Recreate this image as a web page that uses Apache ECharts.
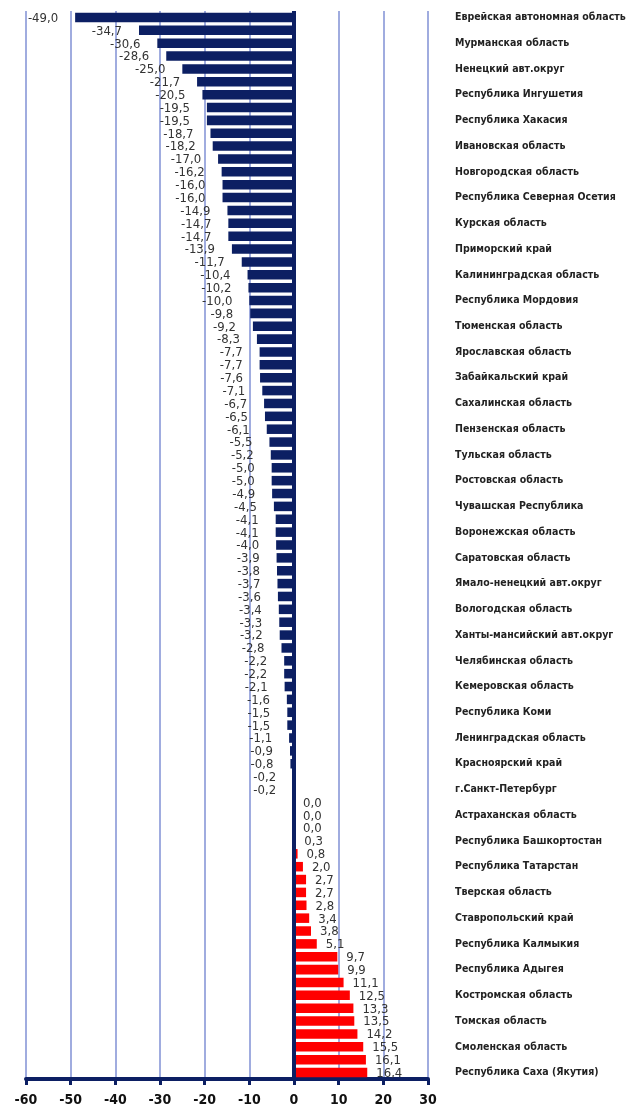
<!DOCTYPE html>
<html>
<head>
<meta charset="utf-8">
<script src="https://cdn.jsdelivr.net/npm/echarts@6/dist/echarts.min.js"></script>
<style>
  html, body { margin: 0; padding: 0; background: #ffffff; }
  #chart { width: 629px; height: 1109px; }
</style>
</head>
<body>
<div id="chart"></div>
<script>
// Change by region, sorted from the largest drop to the largest rise
const values = [
  -49.0, -34.7, -30.6, -28.6, -25.0, -21.7, -20.5, -19.5, -19.5, -18.7,
  -18.2, -17.0, -16.2, -16.0, -16.0, -14.9, -14.7, -14.7, -13.9, -11.7,
  -10.4, -10.2, -10.0, -9.8, -9.2, -8.3, -7.7, -7.7, -7.6, -7.1,
  -6.7, -6.5, -6.1, -5.5, -5.2, -5.0, -5.0, -4.9, -4.5, -4.1,
  -4.1, -4.0, -3.9, -3.8, -3.7, -3.6, -3.4, -3.3, -3.2, -2.8,
  -2.2, -2.2, -2.1, -1.6, -1.5, -1.5, -1.1, -0.9, -0.8, -0.2,
  -0.2, 0.0, 0.0, 0.0, 0.3, 0.8, 2.0, 2.7, 2.7, 2.8,
  3.4, 3.8, 5.1, 9.7, 9.9, 11.1, 12.5, 13.3, 13.5, 14.2,
  15.5, 16.1, 16.4
];

// Region names, shown for every second bar starting from the first
const regionLabels = [
  'Еврейская автономная область', 'Мурманская область', 'Ненецкий авт.округ',
  'Республика Ингушетия', 'Республика Хакасия', 'Ивановская область',
  'Новгородская область', 'Республика Северная Осетия', 'Курская область',
  'Приморский край', 'Калининградская область', 'Республика Мордовия',
  'Тюменская область', 'Ярославская область', 'Забайкальский край',
  'Сахалинская область', 'Пензенская область', 'Тульская область',
  'Ростовская область', 'Чувашская Республика', 'Воронежская область',
  'Саратовская область', 'Ямало-ненецкий авт.округ', 'Вологодская область',
  'Ханты-мансийский авт.округ', 'Челябинская область', 'Кемеровская область',
  'Республика Коми', 'Ленинградская область', 'Красноярский край',
  'г.Санкт-Петербург', 'Астраханская область', 'Республика Башкортостан',
  'Республика Татарстан', 'Тверская область', 'Ставропольский край',
  'Республика Калмыкия', 'Республика Адыгея', 'Костромская область',
  'Томская область', 'Смоленская область', 'Республика Саха (Якутия)'
];

const xTicks = { min: -60, max: 30, step: 10 };

const NAVY = '#0c1f63';
const RED = '#ff0000';
const NARROW = "'Liberation Sans Narrow', 'DejaVu Sans Condensed', 'Noto Sans', sans-serif";

const categories = values.map((_, i) => String(i));
const fmt = v => v.toFixed(1).replace('.', ',');

const barData = values.map(v => ({
  value: v,
  itemStyle: { color: v < 0 ? NAVY : RED },
  label: {
    position: v < 0 ? 'left' : 'right',
    distance: v < 0 ? 17 : 9
  }
}));

const chart = echarts.init(document.getElementById('chart'), null, { renderer: 'canvas' });

chart.setOption({
  animation: false,
  backgroundColor: '#ffffff',
  grid: {
    left: 26, right: 201, top: 11, bottom: 30,
    containLabel: false,
    outerBoundsMode: 'none'
  },
  xAxis: {
    type: 'value',
    min: xTicks.min,
    max: xTicks.max,
    interval: xTicks.step,
    axisLine: { show: true, onZero: false, lineStyle: { color: NAVY, width: 4 } },
    axisTick: { show: true, length: 6, lineStyle: { color: NAVY, width: 3 } },
    axisLabel: {
      color: '#111111',
      fontFamily: NARROW,
      fontWeight: 'bold',
      fontSize: 14,
      margin: 14,
      formatter: v => String(v)
    },
    splitLine: { show: true, lineStyle: { color: '#8090d4', width: 1.5 } }
  },
  yAxis: {
    type: 'category',
    data: categories,
    inverse: true,
    position: 'right',
    axisLine: { show: false },
    axisTick: { show: false },
    splitLine: { show: false },
    axisLabel: {
      interval: 0,
      margin: 27,
      color: '#222222',
      fontFamily: NARROW,
      fontWeight: 'bold',
      fontSize: 10.5,
      formatter: (v, idx) => (idx % 2 === 0 ? regionLabels[idx / 2] : '')
    }
  },
  series: [{
    type: 'bar',
    data: barData,
    barCategoryGap: '26%',
    label: {
      show: true,
      color: '#333333',
      fontFamily: NARROW,
      fontSize: 13,
      offset: [0, 1],
      formatter: p => fmt(p.value)
    },
    markLine: {
      silent: true,
      symbol: 'none',
      label: { show: false },
      lineStyle: { color: NAVY, width: 4, type: 'solid' },
      data: [{ xAxis: 0 }]
    }
  }]
});
</script>
</body>
</html>
